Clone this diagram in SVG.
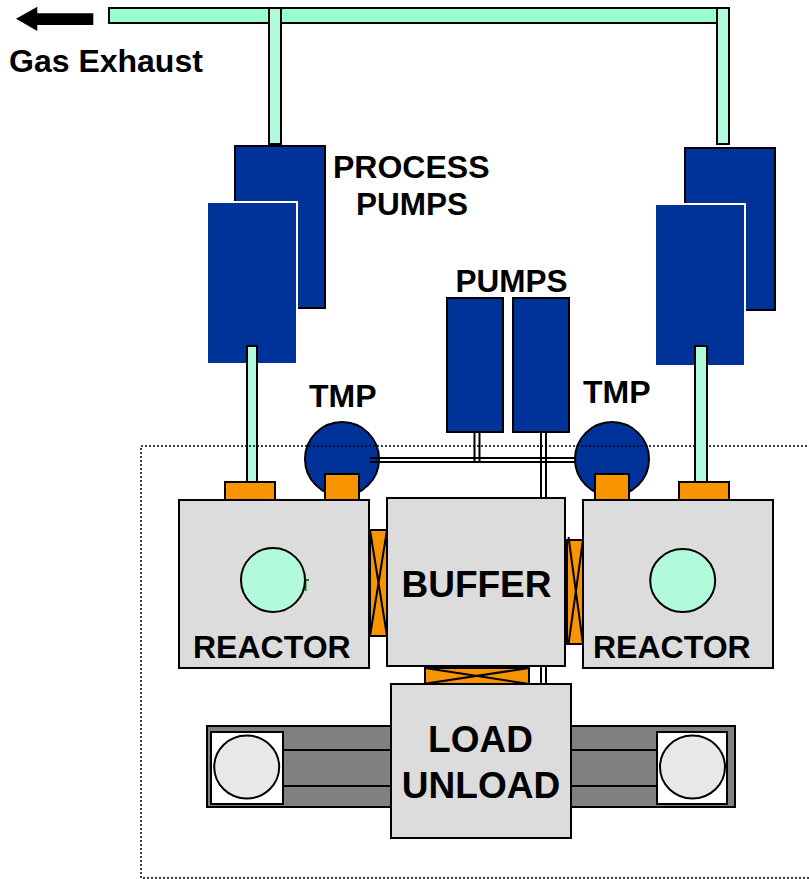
<svg xmlns="http://www.w3.org/2000/svg" width="809" height="879" viewBox="0 0 809 879">
<style>
text{font-family:"Liberation Sans",Arial,sans-serif;font-weight:bold;fill:#000}
.pump{fill:#003399;stroke:#000;stroke-width:2}
.pumpw{fill:#003399;stroke:#fff;stroke-width:2}
.pipe{fill:#b2fadc;stroke:#000;stroke-width:2}
.org{fill:#f79400;stroke:#000;stroke-width:2}
.gray{fill:#dcdcdc;stroke:#000;stroke-width:2}
.line{fill:none;stroke:#000;stroke-width:2}
.disc{fill:#b2fadc;stroke:#000;stroke-width:2}
.wafer{fill:#e8e8e8;stroke:#000;stroke-width:2}
.track{fill:#808080;stroke:#000;stroke-width:2}
.holder{fill:#fff;stroke:#000;stroke-width:2}
.t32{font-size:32px}
.t31{font-size:31.500px}
.t37{font-size:37px}
</style>
<g id="exhaust-arrow"><path d="M16 18.700L37.300 6.700V13.300H93.300V25H37.300V31Z" fill="#000"/></g>
<text x="9" y="72" class="t32">Gas Exhaust</text>
<g id="connectors">
<rect x="109" y="8" width="620" height="15" fill="#99ffcc" stroke="#000" stroke-width="2"/>
<rect x="269" y="8" width="12" height="136" class="pipe"/>
<rect x="717" y="8" width="12" height="136" class="pipe"/>
<path d="M370 458H576M370 462H576M474.500 432V462M479.500 432V462M541 432V684M546 432V684" class="line"/>
</g>
<g id="process-pump-left">
<rect x="235" y="146" width="90" height="162" class="pump"/>
<rect x="207" y="202" width="90" height="162" class="pumpw"/>
</g>
<g id="process-pump-right">
<rect x="685" y="148" width="90" height="162" class="pump"/>
<rect x="655" y="204" width="90" height="162" class="pumpw"/>
</g>
<text x="333" y="178" class="t32">PROCESS</text>
<text x="356" y="215" class="t31">PUMPS</text>
<text x="455.500" y="292" class="t31">PUMPS</text>
<text x="309" y="407" class="t32">TMP</text>
<text x="583" y="403" class="t32">TMP</text>
<g id="pump-a"><rect x="447" y="298" width="56" height="134" class="pump"/></g>
<g id="pump-b"><rect x="513" y="298" width="56" height="134" class="pump"/></g>
<g id="pipe-left"><rect x="247" y="346" width="10" height="140" class="pipe"/></g>
<g id="tmp-left"><circle cx="342" cy="459" r="37" class="pump"/><path d="M370 458H380M370 462H380" class="line"/></g>
<g id="tmp-right"><circle cx="612" cy="459" r="37" class="pump"/></g>
<rect id="boundary" x="141" y="446" width="690" height="432" fill="none" stroke="#000" stroke-width="1.500" stroke-dasharray="2 2"/>
<g id="pipe-right"><rect x="695" y="346" width="12" height="140" class="pipe"/></g>
<g id="flange-1"><rect x="225" y="482" width="50" height="18" class="org"/></g>
<g id="flange-2"><rect x="325" y="474" width="34" height="26" class="org"/></g>
<g id="flange-3"><rect x="595" y="474" width="34" height="26" class="org"/></g>
<g id="flange-4"><rect x="679" y="482" width="50" height="18" class="org"/></g>
<g id="valve-left"><rect x="370" y="530" width="17" height="106" class="org"/><path d="M370 530L387 636M387 530L370 636" class="line"/></g>
<g id="valve-right"><rect x="567" y="540" width="16" height="104" class="org"/><path d="M568.500 537L583 644M583 540L568.500 644" class="line"/></g>
<g id="valve-bottom"><rect x="425" y="668" width="104" height="16" class="org"/><path d="M423 684L529 668M425 668L529 684" class="line"/></g>
<g id="reactor-left"><rect x="179" y="500" width="190" height="168" class="gray"/><path d="M309 580H305.500V591" fill="none" stroke="#0a8a0a" stroke-width="2"/><circle cx="273" cy="580" r="32" class="disc"/><text x="193" y="658" class="t32">REACTOR</text></g>
<g id="reactor-right"><rect x="583" y="500" width="190" height="168" class="gray"/><ellipse cx="682.700" cy="580.500" rx="32.500" ry="31.500" class="disc"/><text x="593" y="658" class="t32">REACTOR</text></g>
<g id="buffer"><rect x="387" y="498" width="178" height="168" class="gray"/><text x="476.500" y="597" text-anchor="middle" class="t37">BUFFER</text></g>
<g id="track-left"><rect x="207" y="726" width="184" height="81" class="track"/><path d="M283 750H391M283 786H391" class="line"/><rect x="211" y="732" width="72" height="72" class="holder"/><ellipse cx="246.700" cy="767" rx="32.500" ry="31.500" class="wafer"/></g>
<g id="track-right"><rect x="571" y="726" width="164" height="81" class="track"/><path d="M571 750H657M571 786H657" class="line"/><rect x="657" y="732" width="70" height="72" class="holder"/><ellipse cx="692.500" cy="767" rx="32.500" ry="31.500" class="wafer"/></g>
<g id="load-unload"><rect x="391" y="684" width="180" height="154" class="gray"/><text x="480.500" y="752" text-anchor="middle" class="t37">LOAD</text><text x="481" y="798" text-anchor="middle" class="t37">UNLOAD</text></g>
</svg>
